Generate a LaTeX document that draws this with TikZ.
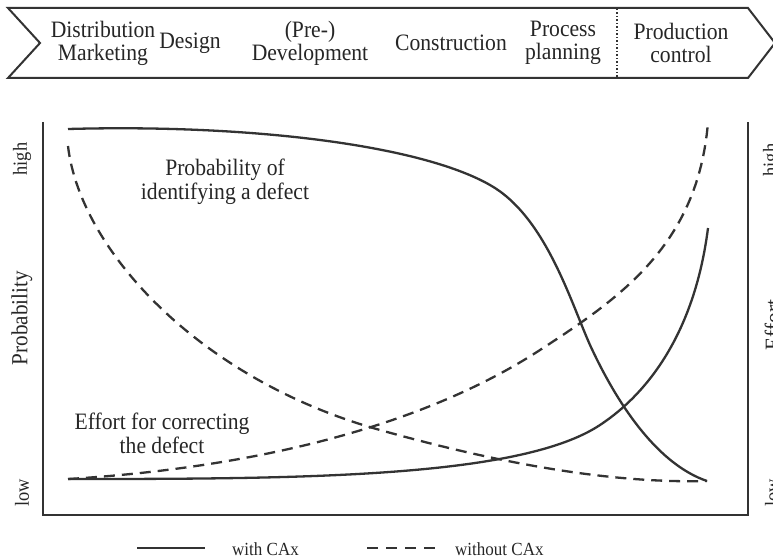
\documentclass[tikz,border=0pt]{standalone}
\usepackage{fontspec}
\setmainfont[FakeStretch=0.92]{Liberation Serif}
\begin{document}
\begin{tikzpicture}[x=1pt,y=-1pt,
  ink/.style={draw=black!80},
  curve/.style={ink,line width=2.3pt,line join=round},
  dashcurve/.style={curve,dash pattern=on 11pt off 7pt},
  phase/.style={font=\fontsize{23.5}{23}\selectfont,align=center,text=black!85,inner sep=0pt},
  lab/.style={font=\fontsize{23.5}{24}\selectfont,align=center,text=black!85,inner sep=0pt},
  axlab/.style={font=\fontsize{20}{22}\selectfont,text=black!85,rotate=90,inner sep=0pt},
  biglab/.style={axlab,font=\fontsize{23}{24}\selectfont},
  leg/.style={font=\fontsize{18.5}{20}\selectfont,text=black!85,inner sep=0pt,anchor=west}]
\useasboundingbox (0,0) rectangle (773,559);
% banner
\draw[ink,line width=2pt,line join=miter] (8,8) -- (748,8) -- (775,43) -- (748,78) -- (8,78) -- (40,43) -- cycle;
\draw[ink,line width=1.5pt,dotted] (617,9) -- (617,77);
\node[phase] (p1) at (103,43) {Distribution\\Marketing};
\node[phase] (p2) at (190,43) {Design};
\node[phase] (p3) at (310,43) {(Pre-)\\Development};
\node[phase] (p4) at (451,43) {Construction};
\node[phase] (p5) at (563,43) {Process\\planning};
\node[phase] (p6) at (681,43) {Production\\control};
% axes
\draw[ink,line width=2.5pt] (43,122) -- (43,515) -- (748,515) -- (748,122);
\node[axlab] (lh) at (22,159) {high};
\node[biglab] (lp) at (22,318) {Probability};
\node[axlab] (ll) at (22,493) {low};
\node[axlab] (rh) at (772,160) {high};
\node[biglab] (rp) at (773,325) {Effort};
\node[axlab] (rl) at (772,493) {low};
% curves
\coordinate (s0) at (68,129);
\coordinate (s1) at (68,146);
\coordinate (s2) at (68,479);
\coordinate (e0) at (707,481);
\coordinate (e1) at (708,228);
\coordinate (e2) at (708,122);
% probability, with CAx
\draw[curve] (s0) .. controls (250,124) and (420,145) .. (490,185)
  .. controls (545,216) and (570,300) .. (590,345)
  .. controls (620,410) and (660,465) .. (e0);
% probability, without CAx
\draw[dashcurve] (s1) .. controls (80,250) and (200,380) .. (380,430)
  .. controls (480,458) and (600,484) .. (e0);
% effort, with CAx
\draw[curve] (s2) .. controls (300,479) and (520,478) .. (600,425)
  .. controls (650,392) and (695,330) .. (e1);
% effort, without CAx
\draw[dashcurve] (s2) .. controls (250,468) and (420,428) .. (540,350)
  .. controls (620,298) and (698,245) .. (e2);
\node[lab] (t1) at (225,182) {Probability of\\identifying a defect};
\node[lab] (t2) at (162,433) {Effort for correcting\\the defect};
% legend
\coordinate (a1) at (137,548); \coordinate (a2) at (205,548);
\draw[curve] (a1) -- (a2);
\node[leg] (w1) at (232,549) {with CAx};
\coordinate (b1) at (367,548); \coordinate (b2) at (437,548);
\draw[curve,dash pattern=on 11pt off 8pt] (b1) -- (b2);
\node[leg] (w2) at (455,549) {without CAx};
\end{tikzpicture}
\end{document}
